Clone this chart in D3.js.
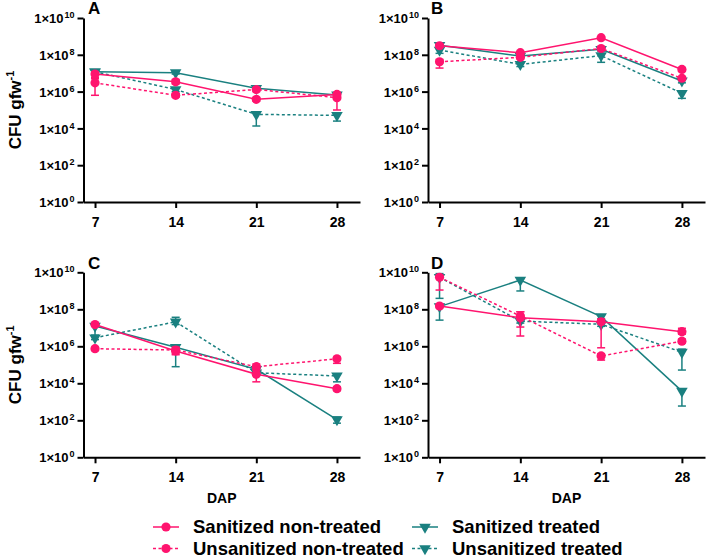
<!DOCTYPE html>
<html><head><meta charset="utf-8">
<script src="https://cdn.jsdelivr.net/npm/d3@7/dist/d3.min.js"></script>
<style>body{margin:0;background:#fff}svg{display:block;font-family:"Liberation Sans",Arial,sans-serif;font-weight:bold}</style>
</head><body>
<svg id="chart" width="708" height="558"></svg>
<script>
// ---- data ----
const days = [7, 14, 21, 28];
const seriesNames = ["Sanitized non-treated", "Unsanitized non-treated", "Sanitized treated", "Unsanitized treated"];
const yTickValues = [1e0, 1e2, 1e4, 1e6, 1e8, 1e10];
const panelLabels = ["A", "B", "C", "D"];

// values per panel, series order as seriesNames
const valuesA = [[9e6, 3.4e6, 3.8e5, 7e5], [3e6, 6.3e5, 1.3e6, 4.7e5], [1.2e7, 1.07e7, 1.5e6, 6.6e5], [1.2e7, 1.3e6, 5.8e4, 5.1e4]];
const lowA    = [[6e6, 2.6e6, 3e5, 5.5e5], [6.3e5, 5e5, 1e6, 1e5], [9e6, 9e6, 1.2e6, 5.5e5], [8e6, 1e6, 1.35e4, 2.5e4]];
const highA   = [[1.2e7, 4.5e6, 4.8e5, 8.5e5], [5e6, 8e5, 1.6e6, 7e5], [1.5e7, 1.2e7, 1.8e6, 7.5e5], [1.5e7, 1.6e6, 7e4, 6e4]];

const valuesB = [[3.1e8, 1.3e8, 8.5e8, 1.6e7], [4.2e7, 7.3e7, 2.2e8, 5.3e6], [3.3e8, 8.5e7, 2e8, 3.8e6], [1.8e8, 3e7, 9e7, 8.1e5]];
const lowB    = [[2.5e8, 1.1e8, 7.5e8, 1.3e7], [1.9e7, 6e7, 1.8e8, 4.5e6], [2.6e8, 7e7, 1.6e8, 3e6], [1.2e8, 2.3e7, 3.9e7, 4.3e5]];
const highB   = [[3.8e8, 1.5e8, 9.5e8, 1.9e7], [5.5e7, 8.5e7, 2.6e8, 6.5e6], [4.2e8, 1e8, 2.6e8, 4.6e6], [2.4e8, 3.6e7, 1.1e8, 1e6]];

const valuesC = [[1.5e7, 5.6e5, 3.1e4, 5.1e3], [7.4e5, 6.3e5, 7.9e4, 2.1e5], [1.25e7, 8.9e5, 5.7e4, 1.1e2], [2.9e6, 2.1e7, 3.7e4, 2.5e4]];
const lowC    = [[1.2e7, 3.5e5, 1.2e4, 4e3], [6e5, 4e5, 5.5e4, 1.2e5], [4e6, 7.9e4, 4.5e4, 7e1], [2.3e6, 1.5e7, 3e4, 1.2e4]];
const highC   = [[1.8e7, 8e5, 5e4, 6.5e3], [9e5, 9e5, 1.1e5, 2.6e5], [1.5e7, 1.2e6, 7e4, 1.5e2], [3.5e6, 3.7e7, 4.5e4, 3e4]];

const valuesD = [[1.5e8, 3.5e7, 2.1e7, 6.2e6], [5.4e9, 4.3e7, 3e5, 1.9e6], [1.4e8, 3.8e9, 4e7, 3.8e3], [5.4e9, 2.3e7, 1.55e7, 4.8e5]];
const lowD    = [[1.2e8, 1.1e7, 8.3e5, 4.5e6], [1.1e9, 3.6e6, 1.8e5, 1.5e6], [2.6e7, 9.8e8, 3e7, 5.9e2], [3.9e8, 1.8e7, 1.2e7, 5.2e4]];
const highD   = [[1.9e8, 7.4e7, 3e7, 9.4e6], [7e9, 7.4e7, 4e5, 2.5e6], [1.8e8, 5e9, 5e7, 5e3], [8.5e9, 2.8e7, 2e7, 7e5]];

// ---- styles / layout ----
const PINK = "#FF146E", TEAL = "#1A8080";
const seriesStyle = [
  {color: PINK, dash: null, marker: "circle"},
  {color: PINK, dash: "3,2.5", marker: "circle"},
  {color: TEAL, dash: null, marker: "tri"},
  {color: TEAL, dash: "3,2.5", marker: "tri"}
];
const drawOrder = [3, 2, 1, 0];
const panelLayout = [
  {x0: 83.5, x1: 360, yTop: 18, yBot: 202, lx: 88, ly: 13.5, title: true, dap: false},
  {x0: 428, x1: 705, yTop: 18, yBot: 202, lx: 431, ly: 13.5, title: false, dap: false},
  {x0: 83.5, x1: 360, yTop: 272.3, yBot: 457.3, lx: 88, ly: 269, title: true, dap: true},
  {x0: 428, x1: 705, yTop: 272.3, yBot: 457.3, lx: 431, ly: 269, title: false, dap: true}
];
const panelData = [[valuesA, lowA, highA], [valuesB, lowB, highB], [valuesC, lowC, highC], [valuesD, lowD, highD]];

const svg = d3.select("#chart");

panelLayout.forEach((L, pi) => {
  const [vals, lows, highs] = panelData[pi];
  const g = svg.append("g");
  const x = d3.scaleLinear().domain([6, 30]).range([L.x0, L.x1]);
  const y = d3.scaleLog().domain([1, 1e10]).range([L.yBot, L.yTop]);

  // x axis
  const xAxis = g.append("g").attr("transform", `translate(0,${L.yBot})`)
    .call(d3.axisBottom(x).tickValues(days).tickSize(6).tickPadding(9).tickSizeOuter(0).tickFormat(d3.format("d")));
  xAxis.select(".domain").attr("stroke", "#000").attr("stroke-width", 2);
  xAxis.selectAll(".tick line").attr("stroke", "#000").attr("stroke-width", 2);
  xAxis.selectAll(".tick text").attr("font-size", 14).attr("font-weight", "bold").attr("fill", "#000")
    .attr("font-family", "Liberation Sans, Arial, sans-serif");

  // y axis
  const yAxis = g.append("g").attr("transform", `translate(${L.x0},0)`)
    .call(d3.axisLeft(y).tickValues(yTickValues).tickSize(6).tickSizeOuter(0).tickFormat(() => ""));
  yAxis.select(".domain").attr("stroke", "#000").attr("stroke-width", 2);
  yAxis.selectAll(".tick line").attr("stroke", "#000").attr("stroke-width", 2);
  yAxis.selectAll(".tick").each(function(d) {
    const t = d3.select(this).select("text");
    t.text(null).attr("x", -9).attr("dy", "0.36em").attr("font-size", 13).attr("font-weight", "bold")
      .attr("fill", "#000").attr("text-anchor", "end").attr("font-family", "Liberation Sans, Arial, sans-serif");
    t.append("tspan").text("1×10");
    t.append("tspan").attr("font-size", 9).attr("dy", -5).attr("dx", 1).text(String(Math.round(Math.log10(d))));
  });

  // panel letter
  g.append("text").attr("x", L.lx).attr("y", L.ly).attr("font-size", 17).attr("font-weight", "bold").text(panelLabels[pi]);

  // y title
  if (L.title) {
    const cy = (L.yTop + L.yBot) / 2;
    const t = g.append("text").attr("transform", `translate(21,${cy}) rotate(-90)`)
      .attr("text-anchor", "middle").attr("font-size", 17).attr("font-weight", "bold");
    t.append("tspan").text("CFU gfw");
    t.append("tspan").attr("font-size", 11).attr("dy", -7).text("-1");
  }
  if (L.dap) {
    g.append("text").attr("x", (L.x0 + L.x1) / 2).attr("y", 503).attr("text-anchor", "middle")
      .attr("font-size", 14).attr("font-weight", "bold").text("DAP");
  }

  // series
  drawOrder.forEach(si => {
    const st = seriesStyle[si];
    const pts = days.map((d, i) => ({d, v: vals[si][i], lo: lows[si][i], hi: highs[si][i]}));
    const sg = g.append("g");
    // error bars
    pts.forEach(p => {
      sg.append("line").attr("x1", x(p.d)).attr("x2", x(p.d)).attr("y1", y(p.lo)).attr("y2", y(p.hi))
        .attr("stroke", st.color).attr("stroke-width", 1.5);
      [p.lo, p.hi].forEach(e => sg.append("line").attr("x1", x(p.d) - 4).attr("x2", x(p.d) + 4)
        .attr("y1", y(e)).attr("y2", y(e)).attr("stroke", st.color).attr("stroke-width", 1.5));
    });
    sg.append("path").datum(pts)
      .attr("d", d3.line().x(p => x(p.d)).y(p => y(p.v)))
      .attr("fill", "none").attr("stroke", st.color).attr("stroke-width", 1.5)
      .attr("stroke-dasharray", st.dash);
    pts.forEach(p => {
      if (st.marker === "circle") {
        sg.append("circle").attr("cx", x(p.d)).attr("cy", y(p.v)).attr("r", 4.6).attr("fill", st.color);
      } else {
        sg.append("path").attr("d", d3.symbol(d3.symbolTriangle, 58)())
          .attr("transform", `translate(${x(p.d)},${y(p.v)}) rotate(180)`).attr("fill", st.color);
      }
    });
  });
});

// legend
const legendPos = [
  {x: 153, y: 527, tx: 193},
  {x: 153, y: 548.5, tx: 193},
  {x: 412, y: 527, tx: 452},
  {x: 412, y: 548.5, tx: 452}
];
seriesNames.forEach((name, si) => {
  const st = seriesStyle[si], P = legendPos[si];
  const lg = svg.append("g");
  lg.append("line").attr("x1", P.x).attr("x2", P.x + 26).attr("y1", P.y).attr("y2", P.y)
    .attr("stroke", st.color).attr("stroke-width", 1.5).attr("stroke-dasharray", st.dash);
  if (st.marker === "circle") {
    lg.append("circle").attr("cx", P.x + 13).attr("cy", P.y).attr("r", 4.6).attr("fill", st.color);
  } else {
    lg.append("path").attr("d", d3.symbol(d3.symbolTriangle, 58)())
      .attr("transform", `translate(${P.x + 13},${P.y}) rotate(180)`).attr("fill", st.color);
  }
  lg.append("text").attr("x", P.tx).attr("y", P.y + 6).attr("font-size", 18.5).attr("font-weight", "bold").text(name);
});
</script>
</body></html>
